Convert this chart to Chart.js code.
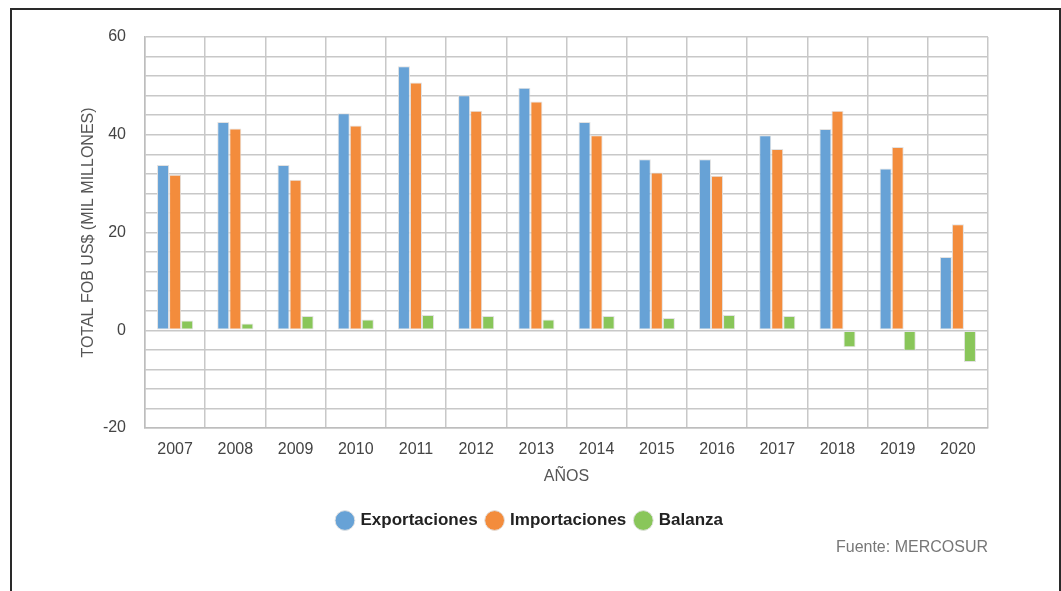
<!DOCTYPE html>
<html>
<head>
<meta charset="utf-8">
<script src="https://cdn.jsdelivr.net/npm/chart.js@4/dist/chart.umd.min.js"></script>
<style>
  html, body { margin: 0; padding: 0; background: #fff; }
  #wrap { position: relative; width: 1061px; height: 591px; overflow: hidden; }
  #frame { position: absolute; left: 10px; top: 8px; width: 1047px; height: 600px; border: 2px solid #2a2a2a; border-bottom: none; }
  #source { position: absolute; right: 73px; top: 538px; font: 16px 'Liberation Sans', Arial, sans-serif; color: #777; }
  canvas { position: absolute; left: 0; top: 0; }
</style>
</head>
<body>
<div id="wrap">
  <div id="frame"></div>
  <canvas id="chart" width="1061" height="591"></canvas>
  <div id="source">Fuente: MERCOSUR</div>
</div>
<script>
const years = ['2007', '2008', '2009', '2010', '2011', '2012', '2013', '2014', '2015', '2016', '2017', '2018', '2019', '2020'];
const exportaciones = [33.8, 42.6, 33.8, 44.4, 54.0, 48.1, 49.6, 42.6, 35.0, 35.0, 39.9, 41.2, 33.1, 15.0];
const importaciones = [31.8, 41.3, 30.8, 41.9, 50.7, 44.9, 46.8, 39.9, 32.3, 31.6, 37.1, 44.9, 37.5, 21.7];
const balanza = [2.0, 1.4, 2.9, 2.2, 3.1, 2.9, 2.2, 2.9, 2.5, 3.1, 2.9, -3.5, -4.2, -6.5];

const font = "'Liberation Sans', Arial, sans-serif";
Chart.defaults.font.family = font;
Chart.defaults.animation = false;

function barSet(label, data, color) {
    return {
        label: label,
        data: data,
        backgroundColor: color,
        borderColor: '#e2e2e2',
        borderWidth: 1,
        borderSkipped: false,
        barPercentage: 1,
        categoryPercentage: 0.6
    };
}

new Chart(document.getElementById('chart'), {
    type: 'bar',
    data: {
        labels: years,
        datasets: [
            barSet('Exportaciones', exportaciones, '#67a2d6'),
            barSet('Importaciones', importaciones, '#f38c3c'),
            barSet('Balanza', balanza, '#89c65a')
        ]
    },
    options: {
        responsive: false,
        layout: { padding: { left: 73, right: 73, top: 37, bottom: 52 } },
        plugins: {
            tooltip: { enabled: false },
            legend: {
                position: 'bottom',
                labels: {
                    usePointStyle: true,
                    pointStyle: 'circle',
                    boxWidth: 14,
                    boxHeight: 14,
                    padding: 10,
                    color: '#222',
                    font: { size: 17, weight: 'bold' }
                }
            }
        },
        scales: {
            x: {
                grid: { color: '#c8c8c8', lineWidth: 1.5, drawTicks: false, offset: true },
                border: { color: '#bdbdbd', width: 1.5 },
                ticks: { color: '#444', font: { size: 16 }, padding: 12 },
                title: { display: true, text: 'AÑOS', color: '#555', font: { size: 16 }, padding: { top: 0, bottom: 16 } },
                afterFit: (scale) => { scale.height = 74; }
            },
            y: {
                min: -20,
                max: 60,
                grid: { color: '#c8c8c8', lineWidth: 1.5, drawTicks: false },
                border: { color: '#bdbdbd', width: 1.5 },
                ticks: {
                    stepSize: 4,
                    color: '#444',
                    font: { size: 16 },
                    padding: 19,
                    autoSkip: false,
                    callback: (v) => (v % 20 === 0 ? v : '')
                },
                title: { display: true, text: 'TOTAL FOB US$ (MIL MILLONES)', color: '#555', font: { size: 16 }, padding: { bottom: 0, top: 6 } },
                afterFit: (scale) => { scale.width = 72; }
            }
        }
    }
});
</script>
</body>
</html>
